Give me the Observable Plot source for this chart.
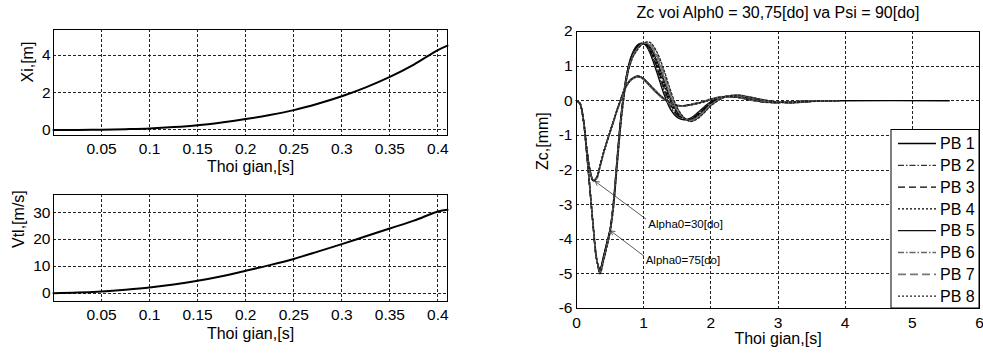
<!DOCTYPE html>
<html><head><meta charset="utf-8">
<script src="https://cdn.jsdelivr.net/npm/d3@7"></script>
<script src="https://cdn.jsdelivr.net/npm/@observablehq/plot@0.6"></script>
<style>
html,body{margin:0;padding:0;background:#fff;}
#root{position:relative;width:983px;height:353px;overflow:hidden;background:#fff;font-family:"Liberation Sans",Arial,sans-serif;}
#root svg{position:absolute;}
</style></head><body><div id="root"></div>
<script>
// ---------- Left panels data ----------
const leftTime = [0,0.025,0.05,0.075,0.1,0.125,0.15,0.175,0.2,0.225,0.25,0.275,0.3,0.325,0.35,0.375,0.4,0.41];
const xiValues = [0,0.0,0.01,0.04,0.08,0.15,0.25,0.4,0.58,0.8,1.06,1.4,1.8,2.28,2.84,3.5,4.28,4.52];
const vtlValues = [0.1,0.3,0.75,1.4,2.2,3.3,4.7,6.4,8.4,10.5,12.8,15.5,18.3,21.2,24.1,27.0,30.4,31.0];
const leftTimeTicks = [0.05,0.1,0.15,0.2,0.25,0.3,0.35,0.4];
const xiTicks = [0,2,4];
const vtlTicks = [0,10,20,30];

// ---------- Right panel data (Zc) ----------
const zcTime = [0,0.05,0.1,0.15,0.2,0.25,0.3,0.35,0.4,0.45,0.5,0.55,0.6,0.65,0.7,0.75,0.8,0.85,0.9,0.95,1.0,1.05,1.1,1.2,1.3,1.4,1.5,1.6,1.7,1.8,1.9,2.0,2.2,2.4,2.6,2.8,3.0,3.2,3.5,3.9,5.55];
const pb1Alpha30 = [0,-0.08,-0.5,-1.35,-2.0,-2.3,-2.22,-1.88,-1.52,-1.2,-0.9,-0.6,-0.3,-0.02,0.25,0.45,0.58,0.66,0.7,0.69,0.62,0.52,0.42,0.22,0.05,-0.08,-0.14,-0.14,-0.11,-0.07,-0.02,0.04,0.12,0.1,0.02,-0.04,-0.05,-0.03,-0.01,0,0];
const pb2Alpha30 = [0,-0.08,-0.51,-1.36,-2.01,-2.31,-2.23,-1.9,-1.53,-1.21,-0.9,-0.6,-0.29,-0.01,0.26,0.46,0.59,0.67,0.7,0.69,0.63,0.53,0.43,0.23,0.06,-0.07,-0.14,-0.15,-0.12,-0.07,-0.02,0.04,0.12,0.11,0.03,-0.04,-0.05,-0.03,-0.01,0,null];
const pb3Alpha30 = [0,-0.08,-0.5,-1.34,-1.99,-2.29,-2.22,-1.89,-1.52,-1.19,-0.89,-0.59,-0.29,-0.01,0.26,0.46,0.59,0.67,0.71,0.7,0.63,0.54,0.44,0.24,0.06,-0.06,-0.13,-0.15,-0.12,-0.08,-0.03,0.03,0.12,0.11,0.03,-0.03,-0.05,-0.03,-0.01,0,null];
const pb4Alpha30 = [0,-0.09,-0.51,-1.36,-2.02,-2.32,-2.24,-1.9,-1.53,-1.2,-0.9,-0.59,-0.28,0,0.27,0.47,0.6,0.67,0.71,0.7,0.64,0.54,0.44,0.24,0.07,-0.06,-0.13,-0.14,-0.12,-0.08,-0.03,0.03,0.11,0.11,0.03,-0.03,-0.05,-0.03,-0.01,0,null];
const pb5Alpha30 = [0,-0.08,-0.5,-1.35,-2.0,-2.3,-2.21,-1.87,-1.51,-1.19,-0.89,-0.59,-0.3,-0.02,0.25,0.45,0.58,0.65,0.69,0.68,0.62,0.52,0.42,0.22,0.05,-0.08,-0.15,-0.15,-0.11,-0.07,-0.02,0.04,0.12,0.1,0.02,-0.04,-0.05,-0.03,-0.01,0,null];
const pb6Alpha30 = [0,-0.08,-0.49,-1.33,-1.98,-2.28,-2.21,-1.88,-1.52,-1.19,-0.88,-0.58,-0.28,0,0.27,0.47,0.6,0.68,0.71,0.7,0.64,0.55,0.45,0.25,0.07,-0.06,-0.13,-0.14,-0.12,-0.08,-0.03,0.03,0.11,0.11,0.04,-0.03,-0.05,-0.03,-0.01,0,null];
const pb7Alpha30 = [0,-0.09,-0.52,-1.37,-2.03,-2.33,-2.25,-1.91,-1.54,-1.21,-0.91,-0.61,-0.31,-0.03,0.24,0.44,0.57,0.65,0.69,0.68,0.61,0.51,0.41,0.21,0.04,-0.09,-0.15,-0.15,-0.11,-0.06,-0.01,0.05,0.13,0.1,0.02,-0.04,-0.05,-0.03,-0.01,0,null];
const pb8Alpha30 = [0,-0.08,-0.5,-1.34,-2.0,-2.31,-2.23,-1.89,-1.52,-1.2,-0.9,-0.6,-0.29,-0.01,0.26,0.46,0.59,0.66,0.7,0.69,0.63,0.53,0.43,0.23,0.06,-0.07,-0.14,-0.14,-0.11,-0.07,-0.02,0.04,0.12,0.1,0.03,-0.04,-0.05,-0.03,-0.01,0,null];
const pb1Alpha75 = [0,-0.08,-0.55,-1.5,-2.6,-3.7,-4.6,-4.85,-4.5,-4.1,-3.7,-2.9,-1.75,-0.65,0.2,0.8,1.2,1.45,1.6,1.66,1.65,1.55,1.35,0.8,0.2,-0.25,-0.48,-0.55,-0.5,-0.35,-0.18,-0.03,0.12,0.14,0.07,0.0,-0.04,-0.05,-0.02,0,null];
const pb2Alpha75 = [0,-0.08,-0.54,-1.49,-2.59,-3.69,-4.59,-4.87,-4.52,-4.12,-3.71,-2.93,-1.79,-0.69,0.17,0.78,1.18,1.43,1.58,1.65,1.65,1.57,1.4,0.89,0.3,-0.17,-0.44,-0.54,-0.51,-0.37,-0.2,-0.05,0.12,0.15,0.07,0.0,-0.04,-0.05,-0.02,0,null];
const pb3Alpha75 = [0,-0.08,-0.53,-1.47,-2.57,-3.67,-4.59,-4.89,-4.54,-4.14,-3.73,-2.96,-1.82,-0.72,0.14,0.76,1.16,1.41,1.56,1.64,1.65,1.59,1.44,0.97,0.4,-0.09,-0.4,-0.53,-0.53,-0.4,-0.23,-0.06,0.11,0.15,0.08,0.01,-0.04,-0.05,-0.02,0,null];
const pb4Alpha75 = [0,-0.08,-0.53,-1.46,-2.56,-3.66,-4.58,-4.91,-4.56,-4.16,-3.74,-2.99,-1.86,-0.76,0.11,0.74,1.13,1.39,1.54,1.63,1.65,1.61,1.49,1.06,0.5,-0.01,-0.36,-0.52,-0.54,-0.42,-0.25,-0.08,0.11,0.15,0.08,0.01,-0.04,-0.05,-0.02,0,null];
const pb5Alpha75 = [0,-0.07,-0.52,-1.44,-2.54,-3.64,-4.57,-4.94,-4.59,-4.19,-3.76,-3.01,-1.89,-0.79,0.09,0.72,1.11,1.36,1.51,1.61,1.66,1.64,1.54,1.14,0.6,0.06,-0.32,-0.51,-0.56,-0.45,-0.28,-0.1,0.1,0.15,0.09,0.01,-0.04,-0.05,-0.02,0,null];
const pb6Alpha75 = [0,-0.07,-0.51,-1.43,-2.53,-3.63,-4.56,-4.96,-4.61,-4.21,-3.77,-3.04,-1.93,-0.83,0.06,0.69,1.09,1.34,1.49,1.6,1.66,1.66,1.59,1.23,0.7,0.14,-0.28,-0.5,-0.57,-0.47,-0.3,-0.11,0.1,0.16,0.09,0.02,-0.04,-0.06,-0.02,0,null];
const pb7Alpha75 = [0,-0.07,-0.51,-1.41,-2.51,-3.61,-4.56,-4.98,-4.63,-4.23,-3.79,-3.07,-1.96,-0.86,0.03,0.67,1.07,1.32,1.47,1.59,1.66,1.68,1.63,1.31,0.8,0.22,-0.24,-0.49,-0.59,-0.5,-0.33,-0.13,0.1,0.16,0.1,0.02,-0.04,-0.06,-0.02,0,null];
const pb8Alpha75 = [0,-0.07,-0.5,-1.4,-2.5,-3.6,-4.55,-5.0,-4.65,-4.25,-3.8,-3.1,-2.0,-0.9,0.0,0.65,1.05,1.3,1.45,1.58,1.66,1.7,1.68,1.4,0.9,0.3,-0.2,-0.48,-0.6,-0.52,-0.35,-0.15,0.1,0.16,0.1,0.02,-0.04,-0.06,-0.02,0,null];
const pbNames = ["PB 1","PB 2","PB 3","PB 4","PB 5","PB 6","PB 7","PB 8"];
const zcTimeTicks = [0,1,2,3,4,5,6];
const zcTicks = [-6,-5,-4,-3,-2,-1,0,1,2];
const annotationText = ["Alpha0=30[do]","Alpha0=75[do]"];
const annotationTipT = [0.28,0.51];
const annotationTipZ = [-2.33,-3.76];
const annotationTailT = [1.03,1.0];
const annotationTailZ = [-3.41,-4.48];
const annotationLabelT = [1.07,1.03];
const annotationLabelZ = [-3.58,-4.62];

// ---------- styles ----------
const FONT = "Liberation Sans, Arial, Helvetica, sans-serif";
const pbStyles = [
  {stroke:"#000", dash:null, width:1.3},
  {stroke:"#333", dash:"6,2,1.5,2", width:1.3},
  {stroke:"#000", dash:"7,4", width:1.3},
  {stroke:"#000", dash:"2,2", width:1.3},
  {stroke:"#111", dash:null, width:1.3},
  {stroke:"#666", dash:"6,2,1.5,2", width:1.3},
  {stroke:"#777", dash:"8,4", width:1.7},
  {stroke:"#222", dash:"2,2", width:1.3}
];
const gridStyle = {stroke:"#222", strokeDasharray:"3,2", strokeWidth:1, shapeRendering:"crispEdges"};

const root = document.getElementById("root");

function leftPanel({values, yDomain, yTicks, yLabel, top, height, marginBottom, xLabelDy, yLabelDx}) {
  const rows = leftTime.map((t,i)=>({t, v: values[i]}));
  const svg = Plot.plot({
    width: 460, height, marginLeft: 53, marginRight: 13, marginTop: 29, marginBottom,
    style: {background:"transparent", fontFamily: FONT, fontSize:"15.5px", color:"#000", overflow:"visible"},
    x: {domain:[0,0.41], ticks: leftTimeTicks, tickFormat: d=>String(d), tickSize:0, tickPadding:7, label:null},
    y: {domain:yDomain, ticks:yTicks, tickFormat: d=>String(d), tickSize:0, tickPadding:3, label:null},
    marks: [
      Plot.ruleX(leftTimeTicks, gridStyle),
      Plot.ruleY(yTicks, gridStyle),
      Plot.line(rows, {x:"t", y:"v", stroke:"#000", strokeWidth:2, curve:"catmull-rom"}),
      Plot.frame({stroke:"#000", shapeRendering:"crispEdges"}),
      Plot.text(["Thoi gian,[s]"], {frameAnchor:"bottom", lineAnchor:"middle", dy:xLabelDy, fontSize:16, fill:"#000"}),
      Plot.text([yLabel], {frameAnchor:"left", lineAnchor:"middle", dx:yLabelDx, rotate:-90, fontSize:16, fill:"#000"})
    ]
  });
  svg.style.left = "0px";
  svg.style.top = top + "px";
  root.appendChild(svg);
}

leftPanel({values: xiValues, yDomain:[-0.3,5.38], yTicks: xiTicks, yLabel:"Xi,[m]", top:0, height:185, marginBottom:50, xLabelDy:31, yLabelDx:-26});
leftPanel({values: vtlValues, yDomain:[-3,36.7], yTicks: vtlTicks, yLabel:"Vtl,[m/s]", top:165, height:188, marginBottom:52, xLabelDy:32, yLabelDx:-35});

// ---------- right panel ----------
const alpha30Series = [pb1Alpha30,pb2Alpha30,pb3Alpha30,pb4Alpha30,pb5Alpha30,pb6Alpha30,pb7Alpha30,pb8Alpha30];
const alpha75Series = [pb1Alpha75,pb2Alpha75,pb3Alpha75,pb4Alpha75,pb5Alpha75,pb6Alpha75,pb7Alpha75,pb8Alpha75];
const lineMarks = [];
pbNames.forEach((name, k) => {
  const st = pbStyles[k];
  [alpha30Series[k], alpha75Series[k]].forEach(vals => {
    const rows = zcTime.map((t,i)=>({t, z: vals[i]}));
    lineMarks.push(Plot.line(rows, {x:"t", y:"z", stroke: st.stroke, strokeWidth: st.width,
      strokeDasharray: st.dash || undefined, curve:"catmull-rom"}));
  });
});
const annotations = annotationText.map((text,i)=>({text,
  tipT: annotationTipT[i], tipZ: annotationTipZ[i],
  tailT: annotationTailT[i], tailZ: annotationTailZ[i],
  labelT: annotationLabelT[i], labelZ: annotationLabelZ[i]}));

const right = Plot.plot({
  width: 463, height: 353, marginLeft: 56, marginRight: 4, marginTop: 31, marginBottom: 45,
  style: {background:"transparent", fontFamily: FONT, fontSize:"15.5px", color:"#000", overflow:"visible"},
  x: {domain:[0,6], ticks: zcTimeTicks, tickFormat: d=>String(d), tickSize:0, tickPadding:8, label:null},
  y: {domain:[-6,2], ticks: zcTicks, tickFormat: d=>String(d), tickSize:0, tickPadding:4, label:null},
  marks: [
    Plot.ruleX(zcTimeTicks.slice(1,-1), gridStyle),
    Plot.ruleY(zcTicks.slice(1,-1), gridStyle),
    ...lineMarks,
    Plot.arrow(annotations, {x1:"tailT", y1:"tailZ", x2:"tipT", y2:"tipZ", stroke:"#333", strokeWidth:0.8, headLength:8}),
    Plot.text(annotations, {x:"labelT", y:"labelZ", text:"text", textAnchor:"start", fontSize:11.5, fill:"#000"}),
    Plot.frame({stroke:"#000", shapeRendering:"crispEdges"}),
    Plot.text(["Zc voi Alph0 = 30,75[do] va Psi = 90[do]"], {frameAnchor:"top", lineAnchor:"middle", dy:-19, fontSize:16, fill:"#000"}),
    Plot.text(["Thoi gian,[s]"], {frameAnchor:"bottom", lineAnchor:"middle", dy:30, fontSize:16, fill:"#000"}),
    Plot.text(["Zc,[mm]"], {frameAnchor:"left", lineAnchor:"middle", dx:-34, rotate:-90, fontSize:16, fill:"#000"})
  ]
});
right.style.left = "520px";
right.style.top = "0px";
root.appendChild(right);

// ---------- legend overlay ----------
const leg = d3.select(root).append("svg")
  .attr("width", 983).attr("height", 353)
  .style("left","0px").style("top","0px").style("pointer-events","none");
const lx = 891, ly = 129.5, lw = 88, lh = 178.5;
leg.append("rect").attr("x", lx).attr("y", ly).attr("width", lw).attr("height", lh)
  .attr("fill","#fff").attr("stroke","#000").attr("stroke-width",1);
pbNames.forEach((name,k)=>{
  const st = pbStyles[k];
  const y = 143.5 + k*21.8;
  leg.append("line").attr("x1", lx+7).attr("x2", lx+45).attr("y1", y).attr("y2", y)
    .attr("stroke", st.stroke).attr("stroke-width", st.width)
    .attr("stroke-dasharray", st.dash);
  leg.append("text").attr("x", lx+49).attr("y", y).attr("dy","0.35em")
    .attr("font-family", FONT).attr("font-size", 16).attr("fill","#000").text(name);
});
</script></body></html>
